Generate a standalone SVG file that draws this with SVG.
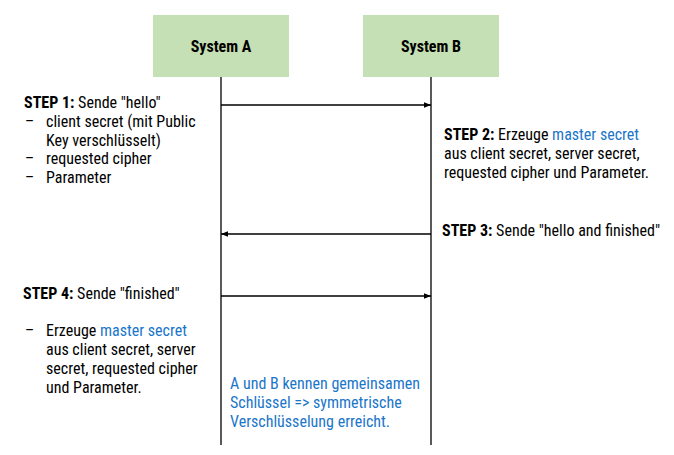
<svg xmlns="http://www.w3.org/2000/svg" width="674" height="455" viewBox="0 0 674 455">
<style>
text{font-family:Roboto,"Liberation Sans",sans-serif;font-size:16px;fill:#000;font-stretch:condensed}
.b{font-weight:bold}
.blue{fill:#1a76c9}
.box{fill:#c5e0b4}
.life{stroke:#000;stroke-width:1.3}
.msg{stroke:#000;stroke-width:1.3;marker-end:url(#ah)}
</style>
<defs>
<marker id="ah" viewBox="0 0 10 10" refX="10" refY="5" markerWidth="7" markerHeight="7" markerUnits="userSpaceOnUse" orient="auto">
<path d="M0,1 L10,5 L0,9 z" fill="#000"/>
</marker>
</defs>
<g id="systemA">
<rect class="box" x="153" y="15" width="136" height="62"/>
<text class="b" x="221" y="52" text-anchor="middle">System A</text>
</g>
<g id="systemB">
<rect class="box" x="363" y="15" width="136" height="62"/>
<text class="b" x="431" y="52" text-anchor="middle">System B</text>
</g>
<g id="connectors">
<line class="life" x1="221" y1="77" x2="221" y2="445"/>
<line class="life" x1="431" y1="77" x2="431" y2="445"/>
<line class="msg" x1="221" y1="105" x2="431" y2="105"/>
<line class="msg" x1="431" y1="234" x2="221" y2="234"/>
<line class="msg" x1="221" y1="296" x2="431" y2="296"/>
</g>
<g id="step1">
<text x="24" y="108"><tspan class="b">STEP 1:</tspan> Sende "hello"</text>
<text x="25" y="127">–</text><text x="46" y="127">client secret (mit Public</text>
<text x="46" y="146">Key verschlüsselt)</text>
<text x="25" y="164">–</text><text x="46" y="164">requested cipher</text>
<text x="25" y="183">–</text><text x="46" y="183">Parameter</text>
</g>
<g id="step2">
<text x="444" y="140"><tspan class="b">STEP 2:</tspan> Erzeuge <tspan class="blue">master secret</tspan></text>
<text x="444" y="159">aus client secret, server secret,</text>
<text x="444" y="178">requested cipher und Parameter.</text>
</g>
<g id="step3">
<text x="442" y="236"><tspan class="b">STEP 3:</tspan> Sende "hello and finished"</text>
</g>
<g id="step4">
<text x="23" y="299"><tspan class="b">STEP 4:</tspan> Sende "finished"</text>
<text x="25" y="336">–</text><text x="46" y="336">Erzeuge <tspan class="blue">master secret</tspan></text>
<text x="46" y="355">aus client secret, server</text>
<text x="46" y="374">secret, requested cipher</text>
<text x="46" y="393">und Parameter.</text>
</g>
<g id="note">
<text class="blue" x="230" y="389">A und B kennen gemeinsamen</text>
<text class="blue" x="230" y="408">Schlüssel =&gt; symmetrische</text>
<text class="blue" x="230" y="427">Verschlüsselung erreicht.</text>
</g>
</svg>
